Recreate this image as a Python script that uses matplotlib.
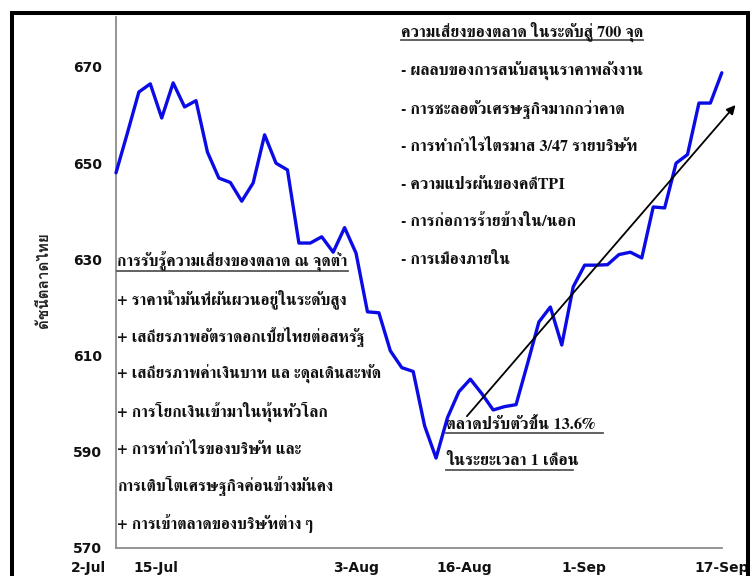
import matplotlib
matplotlib.use("Agg")
import matplotlib.pyplot as plt
from matplotlib.lines import Line2D
from matplotlib.patches import Rectangle

# ---------------- data ----------------
set_values = [648.0, 656.3, 664.8, 666.5, 659.4, 666.7, 661.7, 663.0, 652.3, 646.9,
              646.0, 642.1, 645.9, 655.9, 650.0, 648.6, 633.4, 633.4, 634.7, 631.5,
              636.6, 631.3, 619.1, 618.9, 611.0, 607.5, 606.7, 595.4, 588.7, 597.1,
              602.5, 605.1, 602.1, 598.7, 599.4, 599.8, 608.3, 617.0, 620.1, 612.2,
              624.3, 628.8, 628.8, 628.9, 631.0, 631.5, 630.3, 640.9, 640.7, 650.0,
              651.8, 662.5, 662.5, 668.8]
xtick_labels = ["2-Jul", "15-Jul", "3-Aug", "16-Aug", "1-Sep", "17-Sep"]
xtick_pos = [-2.45, 3.5, 21.0, 30.5, 40.9, 53.0]
ytick_values = [570, 590, 610, 630, 650, 670]
y_label = "ดัชนีตลาดไทย"
trend_start = (30.7, 597.4)
trend_end = (54.2, 662.1)

left_title = "การรับรู้ความเสี่ยงของตลาด ณ จุดต่ำ"
left_lines = ["+ ราคาน้ำมันที่ผันผวนอยู่ในระดับสูง",
              "+ เสถียรภาพอัตราดอกเบี้ยไทยต่อสหรัฐ",
              "+ เสถียรภาพค่าเงินบาท แล ะดุลเดินสะพัด",
              "+ การโยกเงินเข้ามาในหุ้นทั่วโลก",
              "+ การทำกำไรของบริษัท และ",
              "การเติบโตเศรษฐกิจค่อนข้างมั่นคง",
              "+ การเข้าตลาดของบริษัทต่าง ๆ"]
right_title = "ความเสี่ยงของตลาด ในระดับสู่ 700 จุด"
right_lines = ["- ผลลบของการสนับสนุนราคาพลังงาน",
               "- การชะลอตัวเศรษฐกิจมากกว่าคาด",
               "- การทำกำไรไตรมาส 3/47 รายบริษัท",
               "- ความแปรผันของคดีTPI",
               "- การก่อการร้ายข้างใน/นอก",
               "- การเมืองภายใน"]
note_lines = ["ตลาดปรับตัวขึ้น 13.6%", "ในระยะเวลา 1 เดือน"]

# ---------------- figure ----------------
W, H = 752, 576
fig = plt.figure(figsize=(W / 100, H / 100), dpi=100)
fig.patch.set_facecolor("white")

ax_l, ax_r, ax_b, ax_t = 116, 721.8, 548, 17
ax = fig.add_axes([ax_l / W, 1 - ax_b / H, (ax_r - ax_l) / W, (ax_b - ax_t) / H])
ax.set_facecolor("white")
ax.plot(range(len(set_values)), set_values, color="#0b0be6", lw=2.4,
        solid_joinstyle="round", solid_capstyle="round", zorder=3, clip_on=False)
ax.set_xlim(0, len(set_values) - 1)
ax.set_ylim(570, 670 + 50 / 4.81)
for s in ("top", "right"):
    ax.spines[s].set_visible(False)
for s in ("left", "bottom"):
    ax.spines[s].set_color("#8c8c8c")
    ax.spines[s].set_linewidth(1.3)
ax.set_xticks([])
ax.set_yticks(ytick_values)
ax.set_yticklabels([str(v) for v in ytick_values], fontweight="bold", fontsize=10,
                   family="DejaVu Sans", color="#111111")
ax.tick_params(axis="y", length=0, pad=10)

for p, lab in zip(xtick_pos, xtick_labels):
    ax.text(p, -20 / (ax_b - ax_t), lab, transform=ax.get_xaxis_transform(),
            ha="center", va="center", fontsize=10, fontweight="bold",
            family="DejaVu Sans", color="#111111", clip_on=False)

fig.text(44 / W, 1 - 280 / H, y_label, rotation=90, ha="center", va="center",
         family=["Loma", "DejaVu Sans"], fontsize=11, fontweight="bold", color="#222222")

ax.annotate("", xy=trend_end, xytext=trend_start, xycoords="data", textcoords="data",
            annotation_clip=False,
            arrowprops=dict(arrowstyle="-|>", color="black", lw=1.3,
                            mutation_scale=13, shrinkA=0, shrinkB=0), zorder=4)

# border frame
fig.add_artist(Rectangle((12 / W, -0.2), (747.5 - 12) / W, 1.2 - 13 / H,
                         transform=fig.transFigure, fill=False, ec="black",
                         lw=2.9, zorder=20))

# ---------------- texts ----------------
thai_font = ["FreeSerif", "DejaVu Sans"]
fig.canvas.draw()
renderer = fig.canvas.get_renderer()


def put(x, yc, s, fs):
    t = fig.text(x / W, 1 - yc / H, s, family=thai_font, fontweight="bold",
                 fontsize=fs, ha="left", va="baseline", color="#111111")
    return t


def fit_size(s, target):
    t = put(0, 0, s, 20)
    w = t.get_window_extent(renderer).width
    t.remove()
    return 20 * target / w


def place_block(x, y0, dy, lines, fs, k=0.25):
    out = []
    for i, s in enumerate(lines):
        yc = y0 + dy * i
        out.append(put(x, yc + k * fs * 100 / 72, s, fs))
    return out


def underline(x0, x1, y):
    fig.add_artist(Line2D([x0 / W, x1 / W], [1 - y / H, 1 - y / H],
                          transform=fig.transFigure, color="#555555", lw=1.3))


fs_left = fit_size(left_title, 230)
place_block(117, 263, 37.4, [left_title] + left_lines, fs_left)
underline(117, 348, 271)

fs_right = fit_size(right_title, 242)
place_block(401, 33, 38.6, [right_title], fs_right)
place_block(401, 72, 37.6, right_lines, fs_right)
underline(401, 643, 40)

fs_note = fit_size(note_lines[0], 150)
place_block(446, 425, 36, note_lines, fs_note)
underline(446, 603, 433)
underline(446, 573, 470)

fig.savefig("out.png", dpi=100)
